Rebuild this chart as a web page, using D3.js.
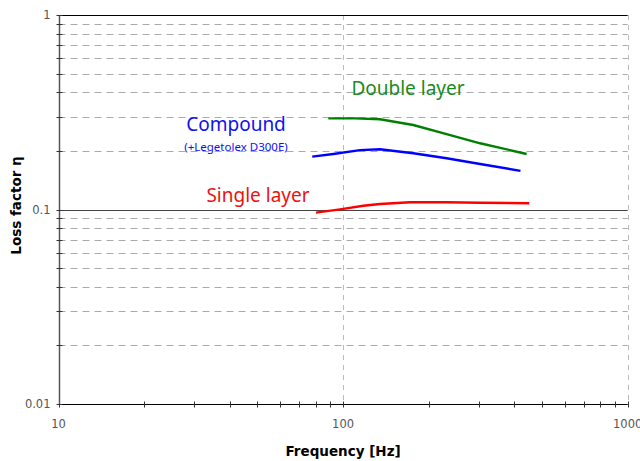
<!DOCTYPE html>
<html lang="en">
<head>
<meta charset="utf-8">
<title>Loss factor</title>
<script src="https://d3js.org/d3.v7.min.js"></script>
<style>
body { margin: 0; background: #fff; }
.tick-label { font-family: "DejaVu Sans", sans-serif; font-size: 11.5px; fill: #555; }
.axis-title { font-family: "DejaVu Sans", sans-serif; font-size: 13.5px; font-weight: bold; fill: #000; }
.note { font-family: "Noto Sans", sans-serif; }
</style>
</head>
<body>
<div id="container"></div>
<script>
// values
const doubleFreq = [88.7, 110, 134.8, 176.4, 231, 303, 441.6];
const doubleEta  = [0.294, 0.294, 0.291, 0.272, 0.244, 0.219, 0.193];

const compoundFreq = [77.9, 92.4, 114.7, 134.8, 176.4, 231, 303, 420];
const compoundEta  = [0.187, 0.193, 0.202, 0.204, 0.1945, 0.1834, 0.1714, 0.158];

const singleFreq = [80.3, 97.5, 117.8, 134.8, 171.8, 231, 303, 451];
const singleEta  = [0.0963, 0.1002, 0.1046, 0.1067, 0.1089, 0.1089, 0.1084, 0.1076];

const xTicks = [10, 100, 1000];
const yTicks = [0.01, 0.1, 1];

const width = 640, height = 461;
const plotLeft = 58.5, plotRight = 627.7, plotTop = 15, plotBottom = 404;

const svg = d3.select("#container").append("svg")
    .attr("width", width)
    .attr("height", height);

const x = d3.scaleLog().domain([10, 1000]).range([plotLeft, plotRight]);
const y = d3.scaleLog().domain([0.01, 1]).range([plotBottom, plotTop]);

// minor values per decade
const minorX = [], minorY = [];
[10, 100].forEach(function(d) {
    for (let k = 2; k <= 9; k++) minorX.push(d * k);
});
[0.01, 0.1].forEach(function(d) {
    for (let k = 2; k <= 9; k++) minorY.push(+(d * k).toFixed(3));
});

// horizontal dashed grid
svg.append("g").selectAll("line")
    .data(minorY).enter().append("line")
    .attr("x1", plotLeft).attr("x2", plotRight)
    .attr("y1", function(d) { return Math.round(y(d)) + 0.5; })
    .attr("y2", function(d) { return Math.round(y(d)) + 0.5; })
    .attr("stroke", "#aaa")
    .attr("stroke-dasharray", "7,5");

// vertical dashed grid
svg.append("g").selectAll("line")
    .data([100, 1000]).enter().append("line")
    .attr("y1", plotTop).attr("y2", plotBottom)
    .attr("x1", function(d) { return Math.round(x(d)) + 0.5; })
    .attr("x2", function(d) { return Math.round(x(d)) + 0.5; })
    .attr("stroke", "#bbb")
    .attr("stroke-dasharray", "5,5");

// major horizontal lines
svg.append("g").selectAll("line")
    .data([0.1, 1]).enter().append("line")
    .attr("x1", plotLeft).attr("x2", plotRight)
    .attr("y1", function(d) { return Math.round(y(d)) + 0.5; })
    .attr("y2", function(d) { return Math.round(y(d)) + 0.5; })
    .attr("stroke", function(d) { return d == 1 ? "#000" : "#444"; });

// x axis
const xAxis = svg.append("g")
    .attr("transform", "translate(0," + (plotBottom + 0.5) + ")");
xAxis.append("line")
    .attr("x1", plotLeft).attr("x2", plotRight)
    .attr("stroke", "#000");
xAxis.selectAll(".tk")
    .data(minorX.concat(xTicks)).enter().append("line")
    .attr("x1", function(d) { return Math.round(x(d)) + 0.5; })
    .attr("x2", function(d) { return Math.round(x(d)) + 0.5; })
    .attr("y1", -3).attr("y2", 3)
    .attr("stroke", "#333");
xAxis.selectAll("text")
    .data(xTicks).enter().append("text")
    .attr("class", "tick-label")
    .attr("x", function(d) { return x(d); })
    .attr("y", 23)
    .attr("text-anchor", "middle")
    .text(function(d) { return d; });

// y axis
const yAxis = svg.append("g")
    .attr("transform", "translate(" + (Math.round(plotLeft) + 0.5) + ",0)");
yAxis.append("line")
    .attr("y1", plotTop).attr("y2", plotBottom)
    .attr("stroke", "#555")
    .attr("stroke-width", 1.5);
yAxis.selectAll(".tk")
    .data(minorY.concat(yTicks)).enter().append("line")
    .attr("y1", function(d) { return Math.round(y(d)) + 0.5; })
    .attr("y2", function(d) { return Math.round(y(d)) + 0.5; })
    .attr("x1", -3).attr("x2", 3)
    .attr("stroke", "#333");
yAxis.selectAll("text")
    .data(yTicks).enter().append("text")
    .attr("class", "tick-label")
    .attr("x", -9)
    .attr("y", function(d) { return y(d) + 4; })
    .attr("text-anchor", "end")
    .text(function(d) { return d; });

// axis titles
svg.append("text")
    .attr("class", "axis-title")
    .attr("x", x(100))
    .attr("y", 456)
    .attr("text-anchor", "middle")
    .text("Frequency [Hz]");

svg.append("text")
    .attr("class", "axis-title")
    .attr("transform", "translate(21," + (y(0.1) - 4) + ") rotate(-90)")
    .attr("text-anchor", "middle")
    .text("Loss factor η");

// curves
const line = d3.line()
    .x(function(d) { return x(d[0]); })
    .y(function(d) { return y(d[1]); });

const series = [
    { f: doubleFreq, v: doubleEta, color: "#008000" },
    { f: compoundFreq, v: compoundEta, color: "#0000ff" },
    { f: singleFreq, v: singleEta, color: "#ff0000" }
];

svg.append("g").selectAll("path")
    .data(series).enter().append("path")
    .attr("fill", "none")
    .attr("stroke", function(d) { return d.color; })
    .attr("stroke-width", 2.4)
    .attr("d", function(d) { return line(d3.zip(d.f, d.v)); });

// labels
svg.append("text").attr("class", "note")
    .attr("x", 408).attr("y", 95)
    .attr("text-anchor", "middle")
    .attr("font-size", 19).attr("fill", "#1a8a1a")
    .text("Double layer");

svg.append("text").attr("class", "note")
    .attr("x", 236).attr("y", 131)
    .attr("text-anchor", "middle")
    .attr("font-size", 19).attr("fill", "#1010ee")
    .text("Compound");

svg.append("text").attr("class", "note")
    .attr("x", 236).attr("y", 151)
    .attr("text-anchor", "middle")
    .attr("font-size", 11.5).attr("fill", "#1010ee")
    .text("(+Legetolex D300E)");

svg.append("text").attr("class", "note")
    .attr("x", 258).attr("y", 202)
    .attr("text-anchor", "middle")
    .attr("font-size", 19).attr("fill", "#ee1010")
    .text("Single layer");
</script>
</body>
</html>
